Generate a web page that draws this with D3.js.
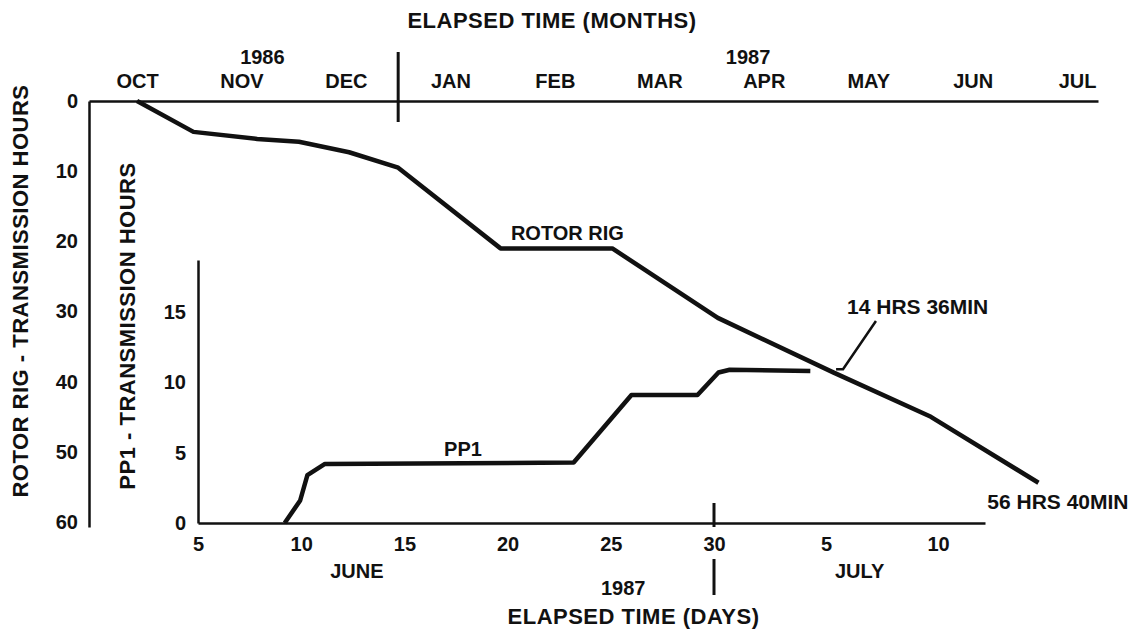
<!DOCTYPE html>
<html>
<head>
<meta charset="utf-8">
<script src="https://cdn.jsdelivr.net/npm/d3@7"></script>
<style>
body{margin:0;background:#fff;}
svg text{font-family:"Liberation Sans",Arial,sans-serif;font-weight:bold;fill:#111;}
.axis path{stroke:#111;stroke-width:2.5px;}
.axis text{font-size:20px;}
.title{font-size:22px;letter-spacing:0.5px;}
.lbl{font-size:20px;}
.note{font-size:21px;}
</style>
</head>
<body>
<div class="chart"></div>
<script>
// top axis - months, left axis - rotor rig hours
var months = ["OCT","NOV","DEC","JAN","FEB","MAR","APR","MAY","JUN","JUL"];
var years = ["1986","1987"];
var yearAt = [1.2, 5.85];   // month position of year label
var rotorTicks = [0,10,20,30,40,50,60];

// rotor rig curve (month index from OCT, hours)
var rotorMonth = [0, 0.54, 1.15, 1.55, 2.03, 2.5, 3.48, 4.55, 5.56, 6.67, 7.6, 8.63];
var rotorHours = [0, 4.4, 5.4, 5.8, 7.3, 9.5, 21.0, 21.0, 30.9, 38.7, 45.0, 54.4];

// bottom axis - days (june 5 .. july 10), inner axis - PP1 hours
var dayTicks = [5,10,15,20,25,30,35,40];
var ppTicks = [0,5,10,15];

// PP1 curve (day of june, >30 is july)
var ppDay = [9.2, 9.95, 10.3, 11.15, 23.2, 26.0, 29.2, 30.2, 30.7, 34.3];
var ppHours = [0, 1.6, 3.4, 4.2, 4.3, 9.1, 9.1, 10.7, 10.9, 10.8];

var xM = d3.scaleLinear().domain([-0.46, 9.2]).range([89, 1098]);
var yR = d3.scaleLinear().domain([0, 60.7]).range([101, 527]);
var xD = d3.scaleLinear().domain([5, 30, 40, 42.1]).range([198, 714, 938, 985]);
var yP = d3.scaleLinear().domain([0, 18.7]).range([523, 260]);

window.onload = function(){

    var svg = d3.select(".chart").append("svg")
        .attr("width", 1140)
        .attr("height", 631);

    // ---- axes ----
    svg.append("g").attr("class", "axis")
        .attr("transform", "translate(0," + yR(0) + ")")
        .call(d3.axisTop(xM).tickValues(d3.range(months.length))
            .tickFormat(function(i){ return months[i]; })
            .tickSize(0).tickPadding(13));

    svg.append("g").attr("class", "axis")
        .attr("transform", "translate(" + xM.range()[0] + ",0)")
        .call(d3.axisLeft(yR).tickValues(rotorTicks).tickSize(0).tickPadding(11));

    svg.append("g").attr("class", "axis")
        .attr("transform", "translate(0," + yP(0) + ")")
        .call(d3.axisBottom(xD).tickValues(dayTicks)
            .tickFormat(function(d){ return d > 30 ? d - 30 : d; })
            .tickSize(0).tickPadding(14));

    svg.append("g").attr("class", "axis")
        .attr("transform", "translate(" + xD.range()[0] + ",0)")
        .call(d3.axisLeft(yP).tickValues(ppTicks).tickSize(0).tickPadding(12));

    // year dividers
    svg.append("line")
        .attr("x1", xM(2.5)).attr("x2", xM(2.5))
        .attr("y1", 52).attr("y2", 122)
        .attr("stroke", "#111").attr("stroke-width", 3);
    svg.append("line")
        .attr("x1", xD(30)).attr("x2", xD(30))
        .attr("y1", 503).attr("y2", 527)
        .attr("stroke", "#111").attr("stroke-width", 3);
    svg.append("line")
        .attr("x1", xD(30)).attr("x2", xD(30))
        .attr("y1", 559).attr("y2", 595)
        .attr("stroke", "#111").attr("stroke-width", 3);

    // ---- titles ----
    svg.append("text").attr("class", "title")
        .attr("x", 552).attr("y", 28)
        .attr("text-anchor", "middle")
        .text("ELAPSED TIME (MONTHS)");

    svg.selectAll(".year").data(years).enter().append("text")
        .attr("class", "lbl year")
        .attr("x", function(d, i){ return xM(yearAt[i]); })
        .attr("y", 64)
        .attr("text-anchor", "middle")
        .text(function(d){ return d; });

    svg.append("text").attr("class", "title")
        .attr("transform", "translate(28," + 291 + ") rotate(-90)")
        .attr("text-anchor", "middle")
        .text("ROTOR RIG - TRANSMISSION HOURS");

    svg.append("text").attr("class", "title")
        .attr("transform", "translate(135," + 326 + ") rotate(-90)")
        .attr("text-anchor", "middle")
        .text("PP1 - TRANSMISSION HOURS");

    svg.append("text").attr("class", "lbl")
        .attr("x", xD(12.7)).attr("y", 578)
        .attr("text-anchor", "middle").text("JUNE");
    svg.append("text").attr("class", "lbl")
        .attr("x", xD(36.5)).attr("y", 578)
        .attr("text-anchor", "middle").text("JULY");
    svg.append("text").attr("class", "lbl")
        .attr("x", xD(25.6)).attr("y", 595)
        .attr("text-anchor", "middle").text("1987");

    svg.append("text").attr("class", "title")
        .attr("x", xD(26.1)).attr("y", 624)
        .attr("text-anchor", "middle")
        .text("ELAPSED TIME (DAYS)");

    // ---- curves ----
    var rotorLine = d3.line()
        .x(function(d){ return xM(d[0]); })
        .y(function(d){ return yR(d[1]); });

    var ppLine = d3.line()
        .x(function(d){ return xD(d[0]); })
        .y(function(d){ return yP(d[1]); });

    svg.append("path")
        .datum(d3.zip(rotorMonth, rotorHours))
        .attr("d", rotorLine)
        .attr("fill", "none").attr("stroke", "#111")
        .attr("stroke-width", 4.5).attr("stroke-linejoin", "round");

    svg.append("path")
        .datum(d3.zip(ppDay, ppHours))
        .attr("d", ppLine)
        .attr("fill", "none").attr("stroke", "#111")
        .attr("stroke-width", 4.5).attr("stroke-linejoin", "round");

    // ---- annotations ----
    svg.append("text").attr("class", "lbl")
        .attr("x", xM(4.12)).attr("y", yR(18.8)).attr("dy", "0.35em")
        .attr("text-anchor", "middle").text("ROTOR RIG");

    svg.append("text").attr("class", "lbl")
        .attr("x", xD(17.84)).attr("y", yP(5.29)).attr("dy", "0.35em")
        .attr("text-anchor", "middle").text("PP1");

    svg.append("text").attr("class", "note")
        .attr("x", xD(35.94)).attr("y", yP(15.36)).attr("dy", "0.35em")
        .text("14 HRS 36MIN");

    svg.append("path")
        .datum([[37.23, 14.36], [35.76, 10.93], [35.45, 10.93]])
        .attr("d", ppLine)
        .attr("fill", "none").attr("stroke", "#111").attr("stroke-width", 2.5);

    svg.append("text").attr("class", "note")
        .attr("x", xM(8.14)).attr("y", yR(57.1)).attr("dy", "0.35em")
        .text("56 HRS 40MIN");
};
</script>
</body>
</html>
